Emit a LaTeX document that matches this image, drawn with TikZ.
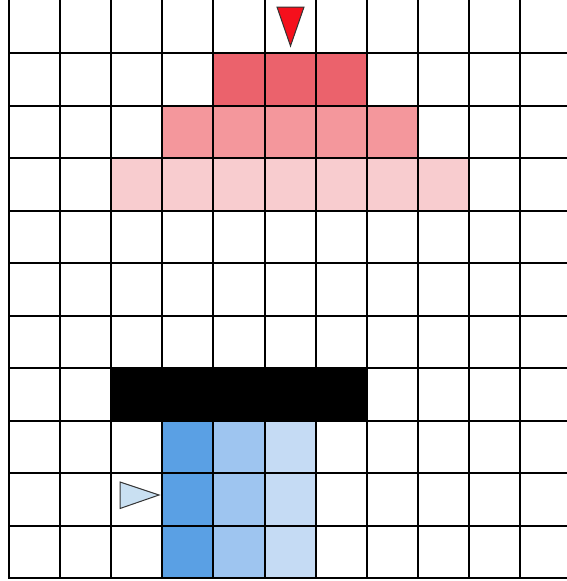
\documentclass[tikz,border=0pt]{standalone}
\definecolor{redA}{HTML}{EB626C}
\definecolor{redB}{HTML}{F4979C}
\definecolor{redC}{HTML}{F8CCCF}
\definecolor{blueA}{HTML}{5AA0E4}
\definecolor{blueB}{HTML}{9EC5F0}
\definecolor{blueC}{HTML}{C5DBF4}
\definecolor{triR}{HTML}{F5101C}
\definecolor{triB}{HTML}{C9E0F2}
\tikzset{gridline/.style={line width=2pt, black},
  tri/.style={draw=black!80, line width=1pt, line join=miter}}
\newcommand{\cellfill}[3]{% col, row, colour
  \fill[#3] ({9+51.1*#1},{-(0.5+52.5*#2)}) rectangle ({9+51.1*(#1+1)},{-(0.5+52.5*(#2+1))});}
\begin{document}
\begin{tikzpicture}[x=1pt,y=1pt]
\useasboundingbox (0,0) rectangle (566,-581);
\fill[white] (0,0) rectangle (566,-581);
% red rows
\foreach \c in {4,5,6} {\cellfill{\c}{1}{redA}}
\foreach \c in {3,...,7} {\cellfill{\c}{2}{redB}}
\foreach \c in {2,...,8} {\cellfill{\c}{3}{redC}}
% blue columns
\foreach \r in {8,9,10} {\cellfill{3}{\r}{blueA}\cellfill{4}{\r}{blueB}\cellfill{5}{\r}{blueC}}
% grid
\foreach \i in {0,...,11} {\draw[gridline] ({9+51.1*\i},2) -- ({9+51.1*\i},-578);}
\foreach \j in {0,...,10} {\draw[gridline] (8,{-(578-52.5*\j)}) -- (570,{-(578-52.5*\j)});}
% black bar
\fill[black] ({9+51.1*2},{-(0.5+52.5*7)}) rectangle ({9+51.1*7},{-(0.5+52.5*8)});
% triangles
\draw[tri, fill=triR] (277,-7) -- (304,-7) -- (290.5,-46) -- cycle;
\draw[tri, fill=triB] (120,-482) -- (159,-495) -- (120,-508.5) -- cycle;
\end{tikzpicture}
\end{document}
